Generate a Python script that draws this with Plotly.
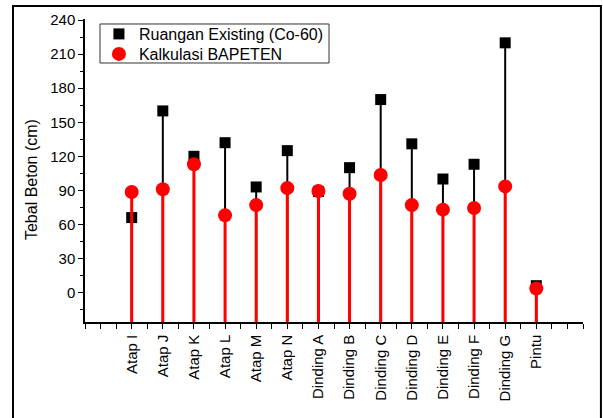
import numpy as np
import plotly.graph_objects as go

categories = ["Atap I", "Atap J", "Atap K", "Atap L", "Atap M", "Atap N",
              "Dinding A", "Dinding B", "Dinding C", "Dinding D", "Dinding E",
              "Dinding F", "Dinding G", "Pintu"]
existing = [66, 160, 120, 132, 93, 125, 89, 110, 170, 131, 100, 113, 220, 6]
bapeten = [88.5, 91, 113, 68, 77, 92, 89.5, 87, 103.5, 77, 73, 74.5, 93.5, 3.5]
y_ticks = [0, 30, 60, 90, 120, 150, 180, 210, 240]

Y_MIN, Y_MAX = -26, 241
pos = list(range(1, len(categories) + 1))
FONT = "Liberation Sans, Arial, sans-serif"


def stems(xs, ys, bottom):
    sx, sy = [], []
    for x, y in zip(xs, ys):
        sx += [x, x, None]
        sy += [y, bottom, None]
    return sx, sy


fig = go.Figure()

bx, by = stems(pos, existing, Y_MIN)
fig.add_trace(go.Scatter(x=bx, y=by, mode="lines", line=dict(color="black", width=2),
                         showlegend=False, hoverinfo="skip"))
fig.add_trace(go.Scatter(x=pos, y=existing, mode="markers", name="Ruangan Existing (Co-60)",
                         legend="legend",
                         marker=dict(symbol="square", size=11, color="black")))
rx, ry = stems(pos, bapeten, Y_MIN)
fig.add_trace(go.Scatter(x=rx, y=ry, mode="lines", line=dict(color="#ff0000", width=3),
                         showlegend=False, hoverinfo="skip"))
fig.add_trace(go.Scatter(x=pos, y=bapeten, mode="markers", name="Kalkulasi BAPETEN",
                         legend="legend2",
                         marker=dict(symbol="circle", size=14, color="#ff0000")))

major_x = list(range(0, len(categories) + 2))
major_text = [categories[i - 1] if 1 <= i <= len(categories) else "" for i in major_x]
minor_x = list(np.arange(-0.5, len(categories) + 2, 1.0))

leg_common = dict(xanchor="left", yanchor="middle", borderwidth=0,
                  bgcolor="rgba(0,0,0,0)", font=dict(size=16, family=FONT, color="black"),
                  itemsizing="trace")

fig.update_layout(
    width=603, height=418,
    margin=dict(l=85, r=20, t=19, b=96),
    paper_bgcolor="white", plot_bgcolor="white",
    font=dict(family=FONT, color="black", size=15),
    legend=dict(x=0.028, y=0.9505, **leg_common),
    legend2=dict(x=0.028, y=0.8845, **leg_common),
    xaxis=dict(range=[-0.5, len(categories) + 1.5], tickmode="array",
               tickvals=major_x, ticktext=major_text, tickangle=-90,
               ticks="outside", ticklen=5, tickwidth=1.3, tickcolor="black",
               showline=True, linecolor="black", linewidth=1.5, automargin=False,
               showgrid=False, zeroline=False, tickfont=dict(size=15),
               minor=dict(tickmode="array", tickvals=minor_x, ticks="outside",
                          ticklen=5, tickwidth=1.3, tickcolor="black", showgrid=False)),
    yaxis=dict(range=[Y_MIN, Y_MAX], tickmode="array", tickvals=y_ticks,
               ticks="outside", ticklen=5, tickwidth=1.3, tickcolor="black",
               showline=True, linecolor="black", linewidth=1.5, automargin=False,
               showgrid=False, zeroline=False, tickfont=dict(size=15),
               minor=dict(dtick=15, tick0=0, ticks="outside", ticklen=3,
                          tickwidth=1.3, tickcolor="black", showgrid=False)),
    annotations=[dict(text="Tebal Beton (cm)", xref="paper", yref="paper",
                      x=-0.1084, y=0.4686, xanchor="center", yanchor="middle",
                      textangle=-90, showarrow=False, font=dict(size=16))],
    shapes=[
        dict(type="rect", xref="paper", yref="paper",
             x0=-0.1446, x1=1.036, y0=-0.4, y1=1.043,
             line=dict(color="black", width=2), layer="below"),
        dict(type="rect", xref="paper", yref="paper",
             x0=0.0301, x1=0.49, y0=0.8548, y1=0.9835,
             line=dict(color="#333333", width=1), fillcolor="white", layer="below"),
    ],
)

fig.write_html("out.html", config={"displayModeBar": False},
               post_script="document.body.style.margin='0';document.body.style.padding='0';")
